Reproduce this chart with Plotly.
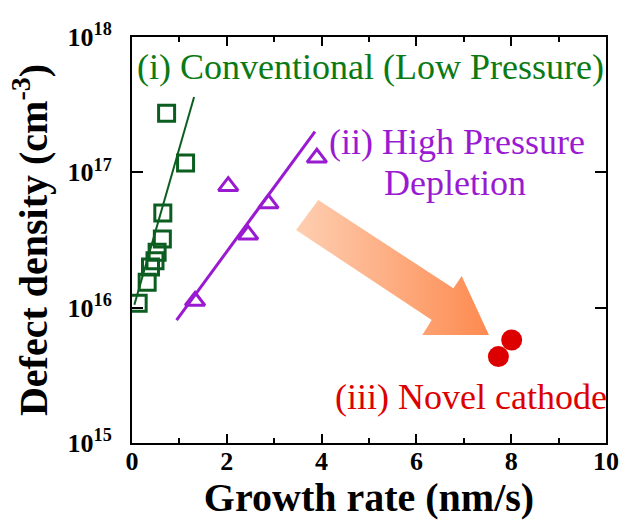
import plotly.graph_objects as go

# ---- data ----
conv_rate = [0.73, 1.13, 0.65, 0.64, 0.53, 0.485, 0.39, 0.32, 0.13]
conv_defect = [2.73e17, 1.17e17, 5.0e16, 3.22e16, 2.57e16, 2.22e16, 2.0e16, 1.54e16, 1.08e16]
conv_fit_rate = [0.05, 1.31]
conv_fit_defect = [1.05e16, 3.6e17]

hp_rate = [1.33, 2.45, 2.88, 2.03, 3.90]
hp_defect = [1.12e16, 3.46e16, 5.88e16, 7.9e16, 1.28e17]
hp_fit_rate = [0.94, 3.86]
hp_fit_defect = [8.1e15, 2.0e17]

novel_rate = [8.01, 7.73]
novel_defect = [5.77e15, 4.35e15]

# decorative arrow outline (growth rate, log10 defect density)
arrow_x = [3.93, 6.78, 6.956, 7.53, 6.125, 6.323, 3.46, 3.93]
arrow_logy = [16.796, 16.143, 16.234, 15.798, 15.798, 15.909, 16.574, 16.796]

x_ticks = [0, 2, 4, 6, 8, 10]
y_ticks = [1e15, 1e16, 1e17, 1e18]
y_ticktext = ["10<sup>15</sup>", "10<sup>16</sup>", "10<sup>17</sup>", "10<sup>18</sup>"]

GREEN_M = "#0b5e1f"
GREEN_T = "#0a7a14"
PURPLE = "#9a1ad2"
RED = "#dd0000"
FONT = "'Liberation Serif', 'Times New Roman', Times, serif"

fig = go.Figure()

fig.add_trace(go.Scatter(
    x=arrow_x, y=[10 ** v for v in arrow_logy], mode="none", fill="toself",
    fillgradient=dict(type="horizontal", colorscale=[[0, "#fecfb2"], [1, "#fd8a50"]]),
    hoverinfo="skip", showlegend=False))

fig.add_trace(go.Scatter(x=conv_fit_rate, y=conv_fit_defect, mode="lines",
                         line=dict(color=GREEN_M, width=2), showlegend=False))
fig.add_trace(go.Scatter(x=hp_fit_rate, y=hp_fit_defect, mode="lines",
                         line=dict(color=PURPLE, width=3), showlegend=False))

fig.add_trace(go.Scatter(x=conv_rate, y=conv_defect, mode="markers",
                         marker=dict(symbol="square-open", size=16, color=GREEN_M,
                                     line=dict(width=3, color=GREEN_M)),
                         showlegend=False))
fig.add_trace(go.Scatter(x=hp_rate, y=hp_defect, mode="markers",
                         marker=dict(symbol="triangle-up-open", size=17, color=PURPLE,
                                     line=dict(width=3, color=PURPLE)),
                         showlegend=False))
fig.add_trace(go.Scatter(x=novel_rate, y=novel_defect, mode="markers",
                         marker=dict(symbol="circle", size=21, color=RED,
                                     line=dict(width=0)),
                         showlegend=False))

ann_font = dict(family=FONT, size=36)
fig.add_annotation(x=0.063, y=17.78, xref="x", yref="y", text="(i) Conventional (Low Pressure)",
                   showarrow=False, xanchor="left", yanchor="middle",
                   font=dict(ann_font, color=GREEN_T))
fig.add_annotation(x=4.11, y=17.225, xref="x", yref="y", text="(ii) High Pressure",
                   showarrow=False, xanchor="left", yanchor="middle",
                   font=dict(ann_font, color=PURPLE))
fig.add_annotation(x=5.27, y=16.92, xref="x", yref="y", text="Depletion",
                   showarrow=False, xanchor="left", yanchor="middle",
                   font=dict(ann_font, color=PURPLE))
fig.add_annotation(x=4.25, y=15.342, xref="x", yref="y", text="(iii) Novel cathode",
                   showarrow=False, xanchor="left", yanchor="middle",
                   font=dict(ann_font, color=RED))

tick_font = dict(family=FONT, size=26, color="black", weight="bold")
title_font = dict(family=FONT, size=40, color="black", weight="bold")

fig.update_xaxes(range=[0, 10], tickvals=x_ticks, ticks="inside", ticklen=9, tickwidth=2,
                 tickcolor="black", showline=True, linewidth=2, linecolor="black",
                 mirror="ticks", showgrid=False, zeroline=False, tickfont=tick_font,
                 ticklabelstandoff=-6,
                 minor=dict(dtick=1, ticks="inside", ticklen=5, tickwidth=2, tickcolor="black",
                            showgrid=False),
                 title=dict(text="Growth rate (nm/s)", font=title_font, standoff=0))
fig.update_yaxes(type="log", range=[15, 18], tickvals=y_ticks, ticktext=y_ticktext,
                 ticks="inside", ticklen=11, tickwidth=2, tickcolor="black",
                 showline=True, linewidth=2, linecolor="black", mirror="ticks",
                 showgrid=False, zeroline=False, tickfont=tick_font, ticklabelstandoff=13,
                 title=dict(text="Defect density (cm<sup>-3</sup>)", font=title_font, standoff=8))

fig.update_layout(width=632, height=520, margin=dict(l=132, r=26, t=37, b=77),
                  plot_bgcolor="white", paper_bgcolor="white", showlegend=False)

fig.write_html("out.html", config={"displayModeBar": False},
               post_script="document.body.style.margin='0';document.body.style.overflow='hidden';")
